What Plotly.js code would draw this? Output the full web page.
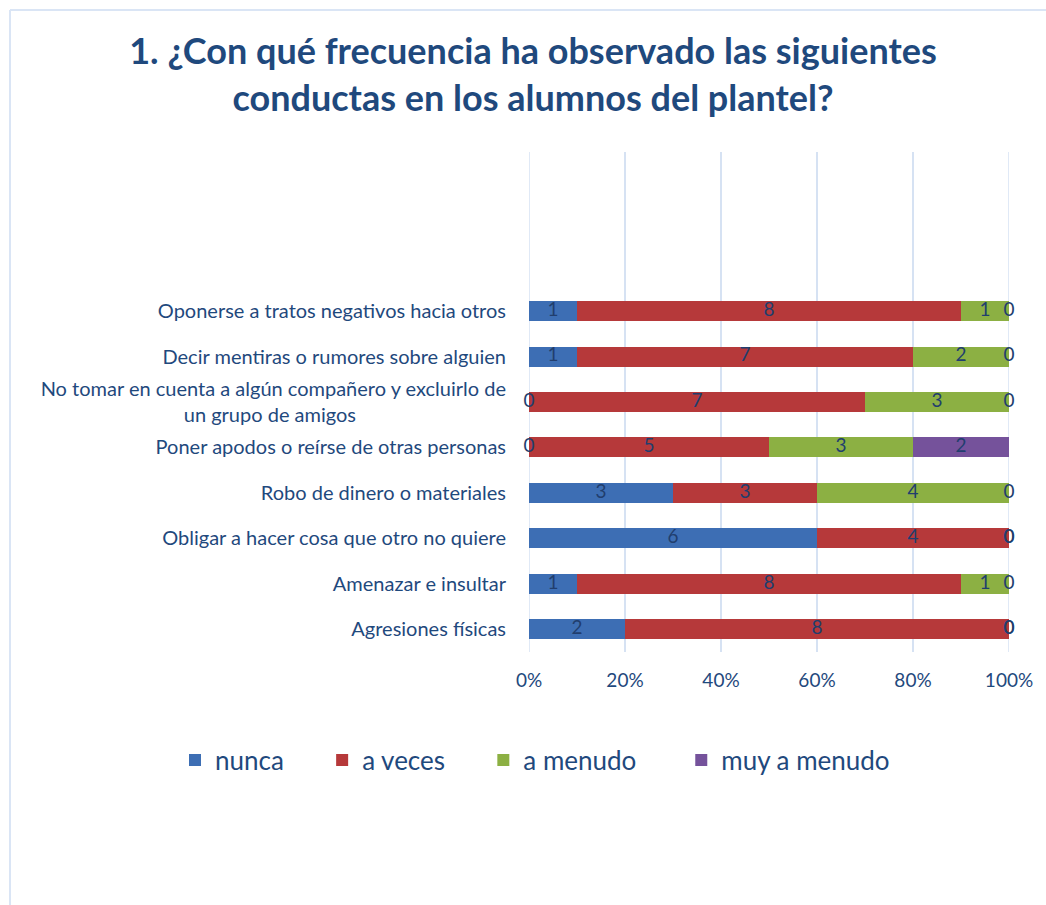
<!DOCTYPE html>
<html>
<head>
<meta charset="utf-8">
<script src="https://cdn.plot.ly/plotly-3.0.1.min.js"></script>
<style>
html,body{margin:0;padding:0;background:#fff;}
#chart{width:1046px;height:905px;}
</style>
</head>
<body>
<div id="chart"></div>
<script>
// Data (bottom to top)
const categories = [
  "Agresiones físicas",
  "Amenazar e insultar",
  "Obligar a hacer cosa que otro no quiere",
  "Robo de dinero o materiales",
  "Poner apodos o reírse de otras personas",
  "No tomar en cuenta a algún compañero y excluirlo de<br>un grupo de amigos",
  "Decir mentiras o rumores sobre alguien",
  "Oponerse a tratos negativos hacia otros"
];
const seriesNames = ["nunca", "a veces", "a menudo", "muy a menudo"];
const nunca      = [2, 1, 6, 3, 0, 0, 1, 1];
const aVeces     = [8, 8, 4, 3, 5, 7, 7, 8];
const aMenudo    = [0, 1, 0, 4, 3, 3, 2, 1];
const muyAMenudo = [0, 0, 0, 0, 2, 0, 0, 0];
const xTickVals  = [0, 20, 40, 60, 80, 100];
const xTickText  = ["0%", "20%", "40%", "60%", "80%", "100%"];

const colors = ["#3D6EB4", "#B6393A", "#8CB043", "#75529B"];
const textColor = "#1F497D";
const labelColor = "#213E6E";
const FONT = "Lato, 'Open Sans', sans-serif";

// padded tick text for the long wrapped label (centres the 2nd line)
const pad = "\u2002".repeat(15);
const tickText = categories.map(c => c.includes("<br>") ? c + pad : c);
// extra spacing after legend entries
const legendPad = ["\u00A0".repeat(5), "\u00A0".repeat(5), "\u00A0".repeat(6), ""];

const allSeries = [nunca, aVeces, aMenudo, muyAMenudo];
const totals = categories.map((_, i) => allSeries.reduce((s, a) => s + a[i], 0));

const traces = [];
allSeries.forEach((vals, k) => {
  traces.push({
    type: "bar", orientation: "h", name: seriesNames[k] + legendPad[k],
    y: categories, x: vals,
    marker: {color: colors[k]},
    width: 0.44,
    hoverinfo: "x+y"
  });
});
// value labels placed at segment centres (in percent)
allSeries.forEach((vals, k) => {
  const mids = categories.map((_, i) => {
    let before = 0;
    for (let j = 0; j < k; j++) before += allSeries[j][i];
    return (before + vals[i] / 2) / totals[i] * 100;
  });
  traces.push({
    type: "scatter", mode: "text", y: categories, x: mids,
    text: vals.map(String), textposition: "middle center",
    textfont: {family: FONT, size: 19, color: labelColor},
    showlegend: false, hoverinfo: "skip", cliponaxis: false
  });
});

// plot-area pixel frame
const L = 529, R = 1009, T = 152, B = 652;
const px = v => (v - L) / (R - L);
const py = v => (B - v) / (B - T);
const gridColor = "#D6E2F3";

const layout = {
  width: 1046, height: 905,
  margin: {l: L, r: 1046 - R, t: T, b: 905 - B, pad: 0},
  paper_bgcolor: "#fff", plot_bgcolor: "#fff",
  barmode: "stack", barnorm: "percent",
  font: {family: FONT, color: textColor, size: 20},
  title: {
    text: "<b>1. ¿Con qué frecuencia ha observado las siguientes<br>conductas en los alumnos del plantel?</b>",
    font: {family: FONT, size: 36, color: textColor},
    x: 533 / 1046, xanchor: "center", xref: "container",
    y: 1 - 64 / 905, yanchor: "top", yref: "container"
  },
  xaxis: {
    range: [0, 100], tickvals: xTickVals, ticktext: xTickText,
    showgrid: true, gridcolor: gridColor, gridwidth: 1.5,
    zeroline: false, showline: false,
    ticks: "outside", ticklen: 11, tickcolor: "rgba(0,0,0,0)",
    tickfont: {family: FONT, size: 19, color: textColor},
    fixedrange: true
  },
  yaxis: {
    type: "category", categoryorder: "array", categoryarray: categories,
    tickvals: categories, ticktext: tickText,
    range: [-0.5, 10.5],
    showgrid: false, zeroline: false, showline: false,
    ticks: "outside", ticklen: 18, tickcolor: "rgba(0,0,0,0)",
    tickfont: {family: FONT, size: 20, color: textColor},
    fixedrange: true
  },
  legend: {
    orientation: "h", xref: "paper", yref: "paper",
    x: px(175), xanchor: "left", y: py(760), yanchor: "middle",
    font: {family: FONT, size: 26, color: textColor},
    traceorder: "normal", itemclick: false, itemdoubleclick: false
  },
  shapes: [
    // gridlines at the 0% and 100% edges of the value axis
    {type: "line", layer: "below", xref: "x", yref: "paper", x0: xTickVals[0], x1: xTickVals[0], y0: 0, y1: 1,
     line: {color: gridColor, width: 1.5}},
    {type: "line", layer: "below", xref: "x", yref: "paper",
     x0: xTickVals[xTickVals.length - 1], x1: xTickVals[xTickVals.length - 1], y0: 0, y1: 1,
     line: {color: gridColor, width: 1.5}},
    // chart frame (left & top)
    {type: "line", xref: "paper", yref: "paper", x0: px(10), x1: px(10), y0: py(10), y1: py(920),
     line: {color: "#DAE5F5", width: 2}},
    {type: "line", xref: "paper", yref: "paper", x0: px(10), x1: px(1060), y0: py(10), y1: py(10),
     line: {color: "#DAE5F5", width: 2}}
  ],
  showlegend: true
};

Plotly.newPlot("chart", traces, layout, {displayModeBar: false, staticPlot: true});
</script>
</body>
</html>
